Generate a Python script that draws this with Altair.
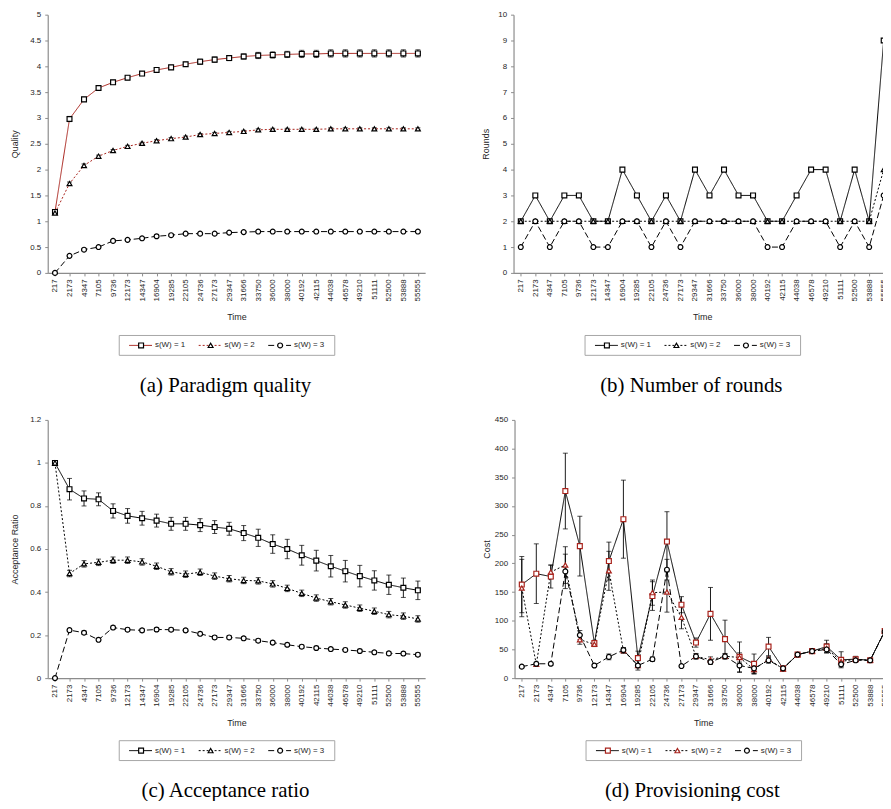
import altair as alt
import pandas as pd

times = ["217", "2173", "4347", "7105", "9736", "12173", "14347", "16904", "19285",
         "22105", "24736", "27173", "29347", "31666", "33750", "36000", "38000",
         "40192", "42115", "44038", "46578", "49210", "51111", "52500", "53888", "55555"]
series = ["s(W) = 1", "s(W) = 2", "s(W) = 3"]

# (a) Paradigm quality
quality_s1 = [1.18, 2.98, 3.36, 3.58, 3.69, 3.78, 3.86, 3.93, 3.98, 4.04, 4.09, 4.13, 4.16,
              4.19, 4.21, 4.22, 4.23, 4.24, 4.24, 4.25, 4.25, 4.25, 4.25, 4.25, 4.25, 4.25]
quality_s1_err = [0.03, 0.05, 0.04, 0.04, 0.04, 0.04, 0.04, 0.04, 0.04, 0.04, 0.05, 0.05, 0.05,
                  0.05, 0.06, 0.06, 0.06, 0.07, 0.07, 0.07, 0.07, 0.07, 0.07, 0.07, 0.07, 0.07]
quality_s2 = [1.16, 1.73, 2.08, 2.26, 2.37, 2.45, 2.51, 2.56, 2.60, 2.63, 2.68, 2.70, 2.72,
              2.74, 2.77, 2.78, 2.78, 2.78, 2.78, 2.79, 2.79, 2.79, 2.79, 2.79, 2.79, 2.79]
quality_s2_err = [0.03] * 3 + [0.02] * 23
quality_s3 = [0.0, 0.33, 0.45, 0.50, 0.62, 0.64, 0.67, 0.71, 0.73, 0.76, 0.76, 0.76, 0.78,
              0.79, 0.80, 0.80, 0.80, 0.80, 0.80, 0.80, 0.80, 0.80, 0.80, 0.80, 0.80, 0.80]
quality_s3_err = [0.02] * 26

# (b) Number of rounds
rounds_s1 = [2, 3, 2, 3, 3, 2, 2, 4, 3, 2, 3, 2, 4, 3, 4, 3, 3, 2, 2, 3, 4, 4, 2, 4, 2, 9]
rounds_s2 = [2] * 25 + [4]
rounds_s3 = [1, 2, 1, 2, 2, 1, 1, 2, 2, 1, 2, 1, 2, 2, 2, 2, 2, 1, 1, 2, 2, 2, 1, 2, 1, 3]

# (c) Acceptance ratio
accept_s1 = [1.0, 0.878, 0.835, 0.831, 0.777, 0.754, 0.743, 0.732, 0.717, 0.717, 0.711, 0.702, 0.694,
             0.674, 0.652, 0.623, 0.600, 0.571, 0.546, 0.520, 0.497, 0.474, 0.454, 0.434, 0.420, 0.408]
accept_s1_err = [0.005, 0.05, 0.035, 0.03, 0.033, 0.034, 0.032, 0.03, 0.03, 0.03, 0.03, 0.03, 0.03,
                 0.035, 0.04, 0.043, 0.045, 0.046, 0.048, 0.05, 0.05, 0.05, 0.045, 0.045, 0.045, 0.043]
accept_s2 = [1.0, 0.486, 0.531, 0.538, 0.548, 0.548, 0.540, 0.520, 0.494, 0.483, 0.492, 0.474, 0.462,
             0.454, 0.452, 0.438, 0.417, 0.394, 0.372, 0.355, 0.340, 0.325, 0.311, 0.295, 0.288, 0.275]
accept_s2_err = [0.005] + [0.015] * 25
accept_s3 = [0.0, 0.223, 0.211, 0.178, 0.235, 0.225, 0.222, 0.226, 0.225, 0.222, 0.206, 0.189, 0.189,
             0.185, 0.174, 0.165, 0.155, 0.146, 0.140, 0.135, 0.131, 0.126, 0.120, 0.115, 0.114, 0.109]
accept_s3_err = [0.003] + [0.008] * 25

# (d) Provisioning cost
cost_s1 = [163, 182, 177, 326, 230, 61, 204, 277, 35, 143, 238, 128, 62, 112, 68, 37, 25, 55, 17,
           41, 47, 55, 32, 33, 31, 82]
cost_s1_err = [49, 52, 20, 66, 52, 5, 33, 68, 12, 25, 52, 14, 8, 46, 33, 26, 17, 16, 3, 2, 3, 11,
               14, 5, 3, 2]
cost_s2 = [157, 24, 185, 197, 67, 59, 187, 48, 22, 149, 150, 106, 38, 32, 38, 36, 15, 33, 16, 41,
           47, 52, 29, 33, 31, 82]
cost_s2_err = [50, 2, 12, 32, 8, 4, 34, 5, 8, 22, 35, 20, 5, 5, 5, 8, 6, 5, 2, 2, 3, 8, 5, 4, 2, 2]
cost_s3 = [20, 25, 25, 186, 75, 22, 37, 49, 22, 33, 189, 21, 38, 28, 38, 22, 17, 31, 17, 41, 47,
           50, 24, 31, 31, 81]
cost_s3_err = [2, 3, 3, 30, 8, 2, 5, 4, 2, 4, 18, 2, 4, 4, 4, 12, 10, 5, 2, 2, 2, 5, 4, 3, 2, 2]

quality_ticks = [0, 0.5, 1, 1.5, 2, 2.5, 3, 3.5, 4, 4.5, 5]
rounds_ticks = [0, 1, 2, 3, 4, 5, 6, 7, 8, 9, 10]
accept_ticks = [0, 0.2, 0.4, 0.6, 0.8, 1.0, 1.2]
cost_ticks = [0, 50, 100, 150, 200, 250, 300, 350, 400, 450]

FONT = "Liberation Sans"
SERIF = "Liberation Serif"
GRAY = "#8c8c8c"
TXT = "#262626"
RED = "#a8231c"
DASHES = [[1, 0], [2, 2], [6, 3]]
SHAPES = ["square", "triangle-up", "circle"]
PW, PH = 380, 260
LEGEND_RANGE = [94, 234]


def long_df(vals, errs):
    rows = []
    for s, v, e in zip(series, vals, errs):
        for t, vv, ee in zip(times, v, e):
            rows.append({"time": t, "series": s, "value": vv, "lo": vv - ee, "hi": vv + ee})
    return pd.DataFrame(rows)


def panel(df, ytitle, ydomain, yticks, yfmt, line_colors, marker_colors, ytitle_pad, errors=True):
    x = alt.X("time:N", sort=times,
              scale=alt.Scale(type="point", padding=0.5, domain=times),
              axis=alt.Axis(title="Time", labelAngle=-90, labelOverlap=False, tickSize=3,
                            labelPadding=3, titlePadding=12))
    yscale = alt.Scale(domain=ydomain, nice=False, zero=False)
    yaxis = alt.Axis(title=ytitle, values=yticks, format=yfmt, tickSize=3, labelPadding=4,
                     titlePadding=ytitle_pad)
    base = alt.Chart(df)
    color = alt.Color("series:N", scale=alt.Scale(domain=series, range=line_colors), legend=None)
    dash = alt.StrokeDash("series:N", scale=alt.Scale(domain=series, range=DASHES), legend=None)
    line = base.mark_line(strokeWidth=1).encode(
        x=x, y=alt.Y("value:Q", scale=yscale, axis=yaxis), color=color, strokeDash=dash)
    layers = [line]
    if errors:
        rule = base.mark_rule(color="black", strokeWidth=0.9).encode(
            x=x, y=alt.Y("lo:Q", scale=yscale, axis=yaxis), y2=alt.Y2("hi"))
        cap_lo = base.mark_tick(color="black", size=5, thickness=1).encode(
            x=x, y=alt.Y("lo:Q", scale=yscale, axis=yaxis))
        cap_hi = base.mark_tick(color="black", size=5, thickness=1).encode(
            x=x, y=alt.Y("hi:Q", scale=yscale, axis=yaxis))
        layers += [rule, cap_lo, cap_hi]
    pts = base.mark_point(filled=True, fill="white", size=24, strokeWidth=1.2, opacity=1).encode(
        x=x, y=alt.Y("value:Q", scale=yscale, axis=yaxis),
        shape=alt.Shape("series:N", scale=alt.Scale(domain=series, range=SHAPES), legend=None),
        stroke=alt.Stroke("series:N", scale=alt.Scale(domain=series, range=marker_colors), legend=None))
    layers.append(pts)
    return alt.layer(*layers).properties(width=PW, height=PH)


def legend_chart(line_colors, marker_colors, caption, cap_offset):
    ldf = pd.DataFrame({"series": series, "row": ["r"] * 3})
    bdf = pd.DataFrame({"first": [series[0]], "last": [series[-1]], "row": ["r"]})
    xs = alt.Scale(type="point", domain=series, range=LEGEND_RANGE, padding=0)
    ys = alt.Scale(type="band", domain=["r"], paddingInner=0, paddingOuter=0)
    box = alt.Chart(bdf).mark_rect(fill="white", stroke="#a6a6a6", strokeWidth=1,
                                   xOffset=-22, x2Offset=55).encode(
        x=alt.X("first:N", scale=xs, axis=None), x2=alt.X2("last"),
        y=alt.Y("row:N", scale=ys, axis=None))
    base = alt.Chart(ldf)
    x = alt.X("series:N", scale=xs, axis=None)
    y = alt.Y("row:N", scale=ys, axis=None)
    sample = base.mark_rule(xOffset=-12, x2Offset=11, strokeWidth=1).encode(
        x=x, x2=alt.X2("series"), y=y,
        color=alt.Color("series:N", scale=alt.Scale(domain=series, range=line_colors), legend=None),
        strokeDash=alt.StrokeDash("series:N", scale=alt.Scale(domain=series, range=DASHES), legend=None))
    mk = base.mark_point(filled=True, fill="white", size=24, strokeWidth=1.2, opacity=1).encode(
        x=x, y=y,
        shape=alt.Shape("series:N", scale=alt.Scale(domain=series, range=SHAPES), legend=None),
        stroke=alt.Stroke("series:N", scale=alt.Scale(domain=series, range=marker_colors), legend=None))
    txt = base.mark_text(align="left", baseline="middle", dx=14, fontSize=8, font=FONT,
                         color=TXT).encode(x=x, y=y, text="series:N")
    return alt.layer(box, sample, mk, txt).properties(
        width=PW, height=20,
        title=alt.TitleParams(text=caption, orient="bottom", anchor="middle", frame="group",
                              font=SERIF, fontSize=21, fontWeight="normal", color="black",
                              offset=cap_offset, dx=-11))


RES = dict(color="independent", stroke="independent", strokeDash="independent",
           shape="independent", x="independent", y="independent")

pa = panel(long_df([quality_s1, quality_s2, quality_s3], [quality_s1_err, quality_s2_err, quality_s3_err]),
           "Quality", [0, 5], quality_ticks, ".1~f", [RED, RED, "black"], ["black"] * 3, 10)
pb = panel(long_df([rounds_s1, rounds_s2, rounds_s3], [[0] * 26] * 3),
           "Rounds", [0, 10], rounds_ticks, "d", ["black"] * 3, ["black"] * 3, 7, errors=False)
pc = panel(long_df([accept_s1, accept_s2, accept_s3], [accept_s1_err, accept_s2_err, accept_s3_err]),
           "Acceptance Ratio", [0, 1.2], accept_ticks, ".1~f", ["black"] * 3, ["black"] * 3, 10)
pd_ = panel(long_df([cost_s1, cost_s2, cost_s3], [cost_s1_err, cost_s2_err, cost_s3_err]),
            "Cost", [0, 450], cost_ticks, "d", ["black"] * 3, [RED, RED, "black"], 3)

la = legend_chart([RED, RED, "black"], ["black"] * 3, "(a) Paradigm quality", 19)
lb = legend_chart(["black"] * 3, ["black"] * 3, "(b) Number of rounds", 19)
lc = legend_chart(["black"] * 3, ["black"] * 3, "(c) Acceptance ratio", 19)
ld = legend_chart(["black"] * 3, [RED, RED, "black"], "(d) Provisioning cost", 19)

block1 = alt.concat(pa, pb, la, lb, columns=2,
                    spacing={"row": 12, "column": 57}).resolve_scale(**RES)
block2 = alt.concat(pc, pd_, lc, ld, columns=2,
                    spacing={"row": 12, "column": 57}).resolve_scale(**RES)

chart = alt.vconcat(block1, block2, spacing=20).resolve_scale(**RES).properties(
    autosize=alt.AutoSizeParams(type="none"),
    padding={"left": 40, "top": 4, "right": 841, "bottom": 789}
).configure_view(stroke=None).configure_axis(
    grid=False, labelFont=FONT, titleFont=FONT, labelColor=TXT, titleColor=TXT,
    labelFontSize=8, titleFontSize=9, titleFontWeight="normal",
    domainColor=GRAY, tickColor=GRAY, domainWidth=1.2
)

chart.save("out.html", embed_options={"renderer": "svg", "actions": False})
